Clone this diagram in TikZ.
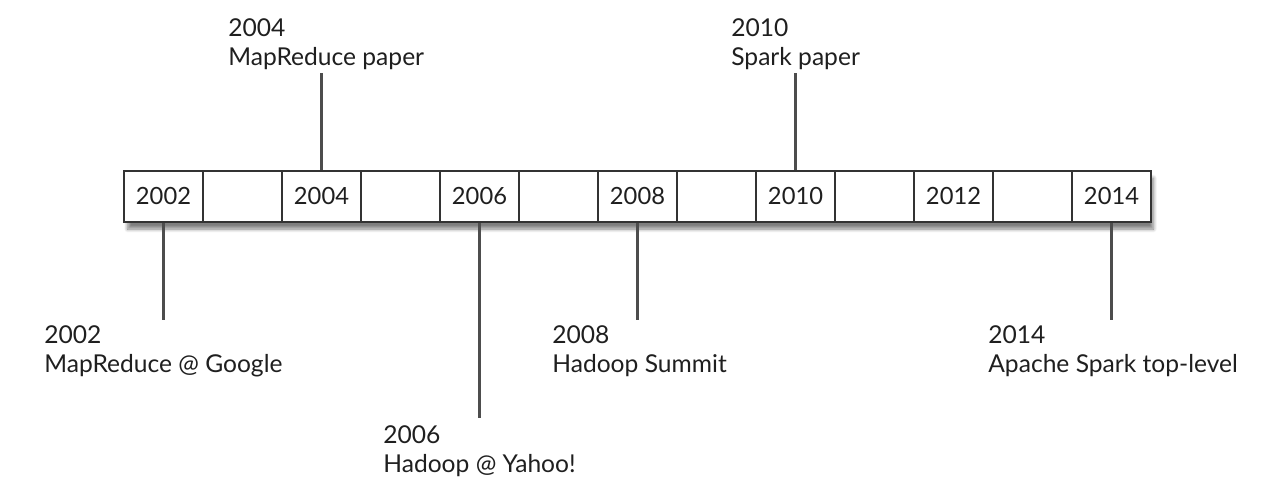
\documentclass[tikz,border=0pt]{standalone}
\usepackage{fontspec}
\setmainfont{Lato}
\usetikzlibrary{positioning,shadows.blur,backgrounds}
\definecolor{ink}{HTML}{1F1F1F}
\definecolor{frame}{HTML}{333333}
\definecolor{stem}{HTML}{4D4D4D}

\begin{document}
\begin{tikzpicture}[x=0.02cm, y=-0.02cm,
  cell/.style={draw=frame, line width=0.9pt, fill=white, minimum width=1.58cm,
               minimum height=1.02cm, inner sep=0pt, font=\fontsize{13.5}{16}\selectfont, text=ink},
  bar/.style={draw=frame, fill=white, minimum width=20.52cm, minimum height=1.02cm,
              inner sep=0pt, blur shadow={shadow xshift=2pt, shadow yshift=-4pt, shadow blur steps=8, shadow opacity=50}},
  event/.style={anchor=base west, align=left, inner sep=0pt, text=ink,
                font=\fontsize{14}{17}\selectfont},
  stemline/.style={stem, line width=1.2pt}
]
  \useasboundingbox (0,0) rectangle (1272,502);

  % the bar with its 13 cells
  \node[bar] (bar) at (637,196.5) {};
  \foreach \i in {0,...,12}{
    \node[cell] (c\i) at (124+79*\i+39.5,196.5) {};
  }
  \foreach \i/\yr in {0/2002,2/2004,4/2006,6/2008,8/2010,10/2012,12/2014}{
    \node[font=\fontsize{13.5}{16}\selectfont, text=ink] (y\i) at (c\i.center) {\yr};
  }

  % events (anchored on the baseline of the last line)
  \node[event] (e2002) at (44,373) {2002\\MapReduce @ Google};
  \node[event] (e2004) at (228,66) {2004\\MapReduce paper};
  \node[event] (e2006) at (383,473) {2006\\Hadoop @ Yahoo!};
  \node[event] (e2008) at (552,373) {2008\\Hadoop Summit};
  \node[event] (e2010) at (731,66) {2010\\Spark paper};
  \node[event] (e2014) at (988,373) {2014\\Apache Spark top-level};

  \coordinate (t2002) at (163.5,320);
  \coordinate (t2004) at (321.5,73);
  \coordinate (t2006) at (479.5,418);
  \coordinate (t2008) at (637.5,320);
  \coordinate (t2010) at (795.5,73);
  \coordinate (t2014) at (1111.5,320);

  \draw[stemline] (c0.south) -- (t2002);
  \draw[stemline] (c2.north) -- (t2004);
  \draw[stemline] (c4.south) -- (t2006);
  \draw[stemline] (c6.south) -- (t2008);
  \draw[stemline] (c8.north) -- (t2010);
  \draw[stemline] (c12.south) -- (t2014);
\end{tikzpicture}
\end{document}
